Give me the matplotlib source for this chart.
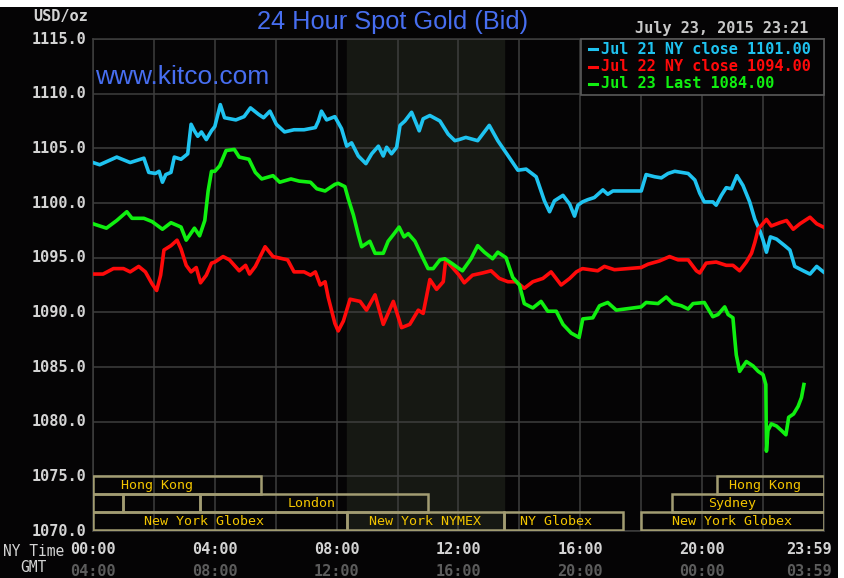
import matplotlib
matplotlib.use("Agg")
import matplotlib.pyplot as plt
from matplotlib.patches import Rectangle

# hours after 00:00 NY time, price in USD/oz
jul21_t = [0.00, 0.22, 0.78, 1.22, 1.67, 1.83, 2.05, 2.17, 2.28, 2.39, 2.56, 2.67, 2.89, 3.11, 3.22,
           3.33, 3.44, 3.56, 3.72, 3.89, 4.00, 4.18, 4.32, 4.69, 4.96, 5.17, 5.44, 5.60, 5.81, 6.02,
           6.29, 6.60, 6.93, 7.30, 7.40, 7.50, 7.67, 7.94, 8.16, 8.33, 8.49, 8.71, 8.96, 9.15, 9.37,
           9.53, 9.64, 9.80, 9.97, 10.08, 10.24, 10.46, 10.71, 10.84, 11.06, 11.39, 11.66, 11.88,
           12.02, 12.24, 12.63, 13.01, 13.29, 13.56, 13.95, 14.22, 14.55, 14.82, 14.99, 15.15, 15.43,
           15.65, 15.81, 15.92, 16.07, 16.24, 16.46, 16.74, 16.90, 17.07, 17.23, 18.00, 18.16, 18.44,
           18.66, 18.88, 19.10, 19.54, 19.76, 19.92, 20.07, 20.35, 20.46, 20.63, 20.79, 20.96, 21.14,
           21.34, 21.56, 21.73, 21.89, 22.00, 22.11, 22.24, 22.44, 22.71, 22.88, 23.04, 23.32, 23.54,
           23.76, 23.98]
jul21_v = [1103.7, 1103.5, 1104.2, 1103.7, 1104.1, 1102.8, 1102.7, 1102.9, 1101.9, 1102.6, 1102.8,
           1104.2, 1104.0, 1104.5, 1107.2, 1106.6, 1106.1, 1106.5, 1105.8, 1106.6, 1107.0, 1109.0,
           1107.8, 1107.6, 1107.9, 1108.7, 1108.1, 1107.8, 1108.4, 1107.2, 1106.5, 1106.7, 1106.7,
           1106.9, 1107.5, 1108.4, 1107.6, 1107.9, 1106.8, 1105.2, 1105.5, 1104.3, 1103.6, 1104.5,
           1105.2, 1104.3, 1105.1, 1104.5, 1105.1, 1107.1, 1107.5, 1108.3, 1106.6, 1107.7, 1108.0,
           1107.5, 1106.3, 1105.7, 1105.8, 1106.0, 1105.7, 1107.1, 1105.7, 1104.6, 1103.0, 1103.1,
           1102.4, 1100.2, 1099.2, 1100.2, 1100.7, 1099.9, 1098.8, 1099.8, 1100.1, 1100.3, 1100.5,
           1101.2, 1100.8, 1101.1, 1101.1, 1101.1, 1102.6, 1102.4, 1102.3, 1102.7, 1102.9, 1102.7,
           1102.1, 1100.9, 1100.1, 1100.1, 1099.8, 1100.7, 1101.4, 1101.3, 1102.5, 1101.6, 1100.1,
           1098.5, 1097.5, 1096.6, 1095.5, 1096.9, 1096.7, 1096.1, 1095.7, 1094.2, 1093.8, 1093.5,
           1094.2, 1093.7]

jul22_t = [0.00, 0.33, 0.67, 1.00, 1.22, 1.50, 1.72, 1.94, 2.09, 2.22, 2.33, 2.56, 2.76, 2.89, 3.06,
           3.22, 3.39, 3.53, 3.72, 3.89, 4.00, 4.27, 4.48, 4.80, 5.01, 5.14, 5.33, 5.65, 5.91, 6.39,
           6.60, 6.93, 7.14, 7.30, 7.46, 7.62, 7.72, 7.83, 7.94, 8.05, 8.22, 8.44, 8.77, 8.98, 9.26,
           9.53, 9.86, 10.13, 10.40, 10.68, 10.84, 11.06, 11.28, 11.50, 11.58, 11.77, 12.02, 12.19,
           12.46, 12.79, 13.07, 13.34, 13.62, 13.89, 14.16, 14.44, 14.77, 15.04, 15.37, 15.65, 15.87,
           16.07, 16.57, 16.79, 17.12, 18.00, 18.22, 18.60, 18.93, 19.21, 19.54, 19.81, 19.92, 20.13,
           20.46, 20.79, 21.01, 21.23, 21.45, 21.62, 21.73, 21.84, 22.11, 22.27, 22.55, 22.77, 22.99,
           23.21, 23.54, 23.76, 23.98]
jul22_v = [1093.5, 1093.5, 1094.0, 1094.0, 1093.7, 1094.2, 1093.7, 1092.6, 1092.0, 1093.4, 1095.7,
           1096.1, 1096.6, 1095.8, 1094.3, 1093.7, 1094.1, 1092.7, 1093.4, 1094.5, 1094.6, 1095.1,
           1094.8, 1093.8, 1094.3, 1093.5, 1094.2, 1096.0, 1095.1, 1094.8, 1093.7, 1093.7, 1093.4,
           1093.7, 1092.5, 1092.8, 1091.4, 1090.2, 1089.0, 1088.3, 1089.2, 1091.2, 1091.0, 1090.2,
           1091.6, 1088.9, 1091.0, 1088.6, 1088.9, 1090.2, 1089.9, 1093.0, 1092.1, 1092.8, 1094.8,
           1094.2, 1093.4, 1092.7, 1093.4, 1093.6, 1093.8, 1093.1, 1092.8, 1092.8, 1092.2, 1092.8,
           1093.1, 1093.7, 1092.5, 1093.1, 1093.7, 1094.0, 1093.8, 1094.2, 1093.9, 1094.1, 1094.4,
           1094.7, 1095.1, 1094.8, 1094.8, 1093.8, 1093.6, 1094.5, 1094.6, 1094.3, 1094.3, 1093.8,
           1094.6, 1095.4, 1096.4, 1097.6, 1098.5, 1097.9, 1098.2, 1098.4, 1097.6, 1098.1, 1098.7,
           1098.1, 1097.8]

jul23_t = [0.00, 0.44, 0.78, 1.11, 1.28, 1.67, 1.94, 2.28, 2.56, 2.89, 3.06, 3.33, 3.50, 3.67, 3.78,
           3.89, 4.00, 4.16, 4.37, 4.64, 4.80, 5.12, 5.33, 5.54, 5.91, 6.13, 6.50, 6.77, 7.14, 7.35,
           7.62, 7.94, 8.05, 8.27, 8.38, 8.55, 8.71, 8.82, 9.09, 9.26, 9.53, 9.69, 9.86, 10.05, 10.21,
           10.35, 10.57, 10.79, 11.00, 11.17, 11.39, 11.55, 11.77, 12.02, 12.13, 12.41, 12.63, 12.85,
           13.12, 13.29, 13.56, 13.78, 14.00, 14.16, 14.44, 14.71, 14.93, 15.21, 15.43, 15.70, 15.96,
           16.08, 16.41, 16.63, 16.90, 17.18, 18.00, 18.16, 18.55, 18.82, 19.04, 19.32, 19.54, 19.70,
           20.07, 20.35, 20.52, 20.74, 20.85, 21.01, 21.07, 21.12, 21.23, 21.45, 21.67, 21.84, 22.00,
           22.09, 22.11, 22.16, 22.27, 22.44, 22.60, 22.75, 22.84, 23.00, 23.15, 23.26, 23.34]
jul23_v = [1098.1, 1097.7, 1098.4, 1099.2, 1098.6, 1098.6, 1098.3, 1097.6, 1098.2, 1097.8, 1096.6,
           1097.7, 1097.0, 1098.4, 1101.1, 1102.9, 1102.9, 1103.4, 1104.8, 1104.9, 1104.2, 1104.0,
           1102.8, 1102.2, 1102.5, 1101.9, 1102.2, 1102.0, 1101.9, 1101.3, 1101.1, 1101.7, 1101.8,
           1101.5, 1100.4, 1098.9, 1097.1, 1096.0, 1096.5, 1095.4, 1095.4, 1096.5, 1097.1, 1097.8,
           1096.9, 1097.2, 1096.5, 1095.2, 1094.0, 1094.0, 1094.8, 1094.9, 1094.5, 1094.0, 1093.8,
           1094.9, 1096.1, 1095.5, 1094.9, 1095.5, 1095.0, 1093.2, 1092.5, 1090.8, 1090.4, 1091.0,
           1090.1, 1090.1, 1088.9, 1088.1, 1087.7, 1089.4, 1089.5, 1090.6, 1090.9, 1090.2, 1090.5,
           1090.9, 1090.8, 1091.4, 1090.8, 1090.6, 1090.3, 1090.8, 1090.9, 1089.6, 1089.8, 1090.5,
           1089.8, 1089.5, 1087.6, 1086.1, 1084.6, 1085.5, 1085.1, 1084.6, 1084.3, 1083.4, 1077.3,
           1079.2, 1079.8, 1079.6, 1079.2, 1078.8, 1080.4, 1080.7, 1081.4, 1082.2, 1083.4]

legend_labels = ["Jul 21 NY close 1101.00", "Jul 22 NY close 1094.00", "Jul 23 Last 1084.00"]
y_ticks = [1070, 1075, 1080, 1085, 1090, 1095, 1100, 1105, 1110, 1115]
tick_hours = [0, 4, 8, 12, 16, 20, 24]
ny_labels = ["00:00", "04:00", "08:00", "12:00", "16:00", "20:00", "23:59"]
gmt_labels = ["04:00", "08:00", "12:00", "16:00", "20:00", "00:00", "03:59"]

# trading sessions: row (0 = top), start hour, end hour, name
sess_row = [0, 0, 1, 1, 1, 1, 2, 2, 2, 2]
sess_start = [0.0, 20.5, 0.0, 1.0, 3.5, 19.0, 0.0, 8.33, 13.5, 18.0]
sess_end = [5.5, 24.0, 1.0, 3.5, 11.0, 24.0, 8.33, 13.5, 17.4, 24.0]
sess_name = ["Hong Kong", "Hong Kong", "", "", "London", "Sydney",
             "New York Globex", "New York NYMEX", "NY Globex", "New York Globex"]
nymex_open, nymex_close = 8.33, 13.5

W, H = 844, 578
BG = "#050405"
GRID = "#3e3e3e"
LABEL = "#d4d4d4"
MONO = "DejaVu Sans Mono"
COLORS = ["#1fc3f0", "#ff0a0a", "#10f010"]


def fx(x):
    return x / W


def fy(y):
    return 1 - y / H


fig = plt.figure(figsize=(W / 100, H / 100), dpi=100, facecolor="white")
fig.patches.append(Rectangle((0, 0), fx(838), fy(7), transform=fig.transFigure,
                             facecolor=BG, edgecolor="none", zorder=-10))

ax = fig.add_axes([fx(93), fy(531), fx(824) - fx(93), fy(39) - fy(531)])
ax.set_facecolor(BG)
ax.set_xlim(0, 24)
ax.set_ylim(1070, 1115)
ax.axvspan(nymex_open, nymex_close, color="#161813", zorder=0)
ax.set_xticks(range(0, 25, 2))
ax.set_yticks(y_ticks)
ax.grid(True, color=GRID, lw=1.1)
ax.set_axisbelow(True)
ax.tick_params(length=0, labelbottom=False, labelleft=False)
for s in ax.spines.values():
    s.set_color(GRID)
    s.set_linewidth(1.1)

ax.plot(jul21_t, jul21_v, color=COLORS[0], lw=2.6, zorder=3)
ax.plot(jul22_t, jul22_v, color=COLORS[1], lw=2.6, zorder=3)
ax.plot(jul23_t, jul23_v, color=COLORS[2], lw=2.6, zorder=4)

# session boxes at the bottom
row_top = [1075.0, 1073.35, 1071.7]
row_h = 1.65
label_at = [2.1, 22.06, None, None, 7.17, 20.97, 3.64, 10.9, 15.2, 20.97]
for r, a, b, name, lx in zip(sess_row, sess_start, sess_end, sess_name, label_at):
    y0 = row_top[r] - row_h
    ax.add_patch(Rectangle((a, y0), b - a, row_h, facecolor="none",
                           edgecolor="#a29c72", lw=1.8, zorder=5))
    if name:
        ax.text(lx, y0 + row_h / 2, name, color="#f2c400", fontsize=9.6,
                family=MONO, ha="center", va="center", zorder=6)

# y tick labels
for v in y_ticks:
    ax.text(-0.23, v, f"{v:.1f}", color=LABEL, fontsize=11, family=MONO,
            fontweight="bold", ha="right", va="center", clip_on=False)
fig.text(fx(88), fy(17), "USD/oz", color=LABEL, fontsize=11, family=MONO,
         fontweight="bold", ha="right", va="center")

# x tick labels, NY and GMT rows
for h, ny, gmt in zip(tick_hours, ny_labels, gmt_labels):
    x = 93 + h * (824 - 93) / 24
    if h == 24:
        x = 809
    fig.text(fx(x), fy(550), ny, color=LABEL, fontsize=11, family=MONO,
             fontweight="bold", ha="center", va="center")
    fig.text(fx(x), fy(571), gmt, color="#5c5c5c", fontsize=11, family=MONO,
             fontweight="bold", ha="center", va="center")
fig.text(fx(64), fy(551), "NY Time", color=LABEL, fontsize=10.5, family=MONO,
         ha="right", va="center")
fig.text(fx(33), fy(568), "GMT", color=LABEL, fontsize=10.5, family=MONO,
         ha="center", va="center")

# titles
fig.text(fx(393), fy(22), "24 Hour Spot Gold (Bid)", color="#476ef0", fontsize=18.3,
         family="Liberation Sans", ha="center", va="center")
fig.text(fx(95), fy(77), "www.kitco.com", color="#476ef0", fontsize=19,
         family="Liberation Sans", ha="left", va="center", zorder=10)
fig.text(fx(808), fy(29), "July 23, 2015 23:21", color="#c8c8c8", fontsize=11,
         family=MONO, fontweight="bold", ha="right", va="center")

# legend box
fig.patches.append(Rectangle((fx(581), fy(95)), fx(824) - fx(581), fy(39) - fy(95),
                             transform=fig.transFigure, facecolor=BG,
                             edgecolor="#5a5a5a", lw=1.2, zorder=8))
for i, (lab, col) in enumerate(zip(legend_labels, COLORS)):
    yy = fy(49 + 17.5 * i)
    fig.lines.append(plt.Line2D([fx(589), fx(597)], [yy, yy], transform=fig.transFigure,
                                color=col, lw=2.2, zorder=9))
    fig.text(fx(601), yy, lab, color=col, fontsize=11, family=MONO,
             fontweight="bold", ha="left", va="center", zorder=9)

fig.savefig("out.png", dpi=100, facecolor=fig.get_facecolor())
